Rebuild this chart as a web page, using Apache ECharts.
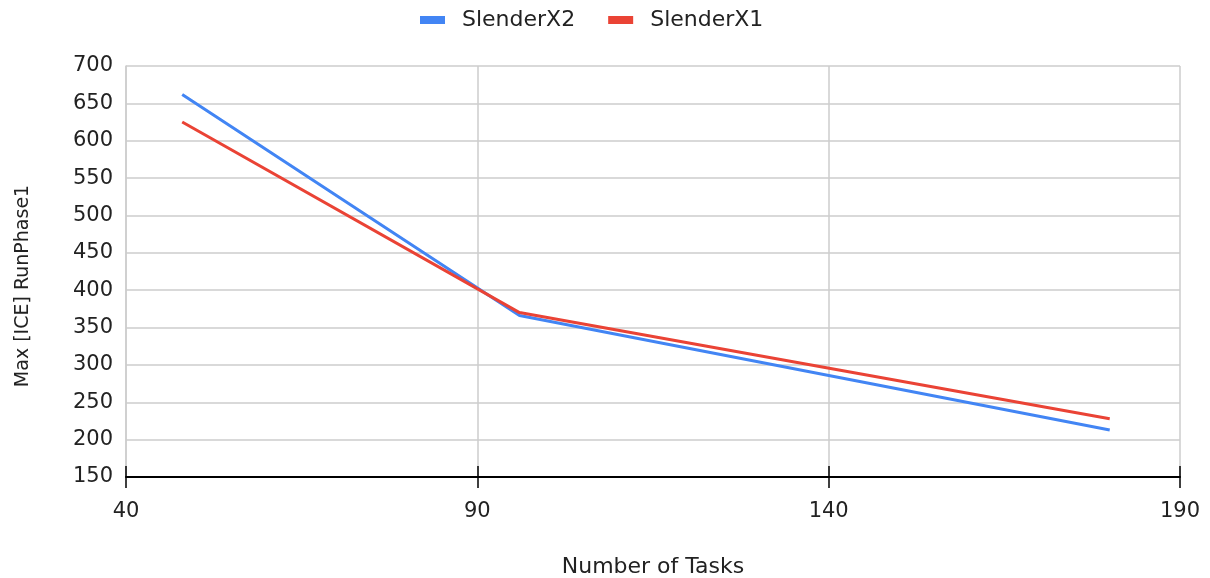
<!DOCTYPE html>
<html>
<head>
<meta charset="utf-8">
<title>Max [ICE] RunPhase1 vs Number of Tasks</title>
<script src="https://cdn.jsdelivr.net/npm/echarts@6/dist/echarts.min.js"></script>
<style>
  html, body { margin: 0; padding: 0; background: #fff; }
  #chart { width: 1210px; height: 578px; }
</style>
</head>
<body>
<div id="chart"></div>
<script>
// Number of tasks (x) for each measurement
const tasks = [48, 96, 180];
// Max [ICE] RunPhase1 per configuration
const slenderX2 = [662, 366, 213];
const slenderX1 = [625, 370, 228];
// Axis ranges
const xTicks = { min: 40, max: 190, interval: 50 };
const yTicks = { min: 150, max: 700, interval: 50 };

const FONT = '"DejaVu Sans", Arial, sans-serif';
const TEXT = '#222222';
const toPairs = (xs, ys) => xs.map((x, i) => [x, ys[i]]);

const chart = echarts.init(document.getElementById('chart'));
chart.setOption({
  backgroundColor: '#ffffff',
  animation: false,
  textStyle: { fontFamily: FONT },
  legend: {
    top: 9,
    left: 420,
    padding: 0,
    icon: 'rect',
    itemWidth: 25,
    itemHeight: 8,
    itemGap: 33,
    textStyle: { fontSize: 22, color: TEXT, fontFamily: FONT, padding: [0, 0, 0, 12] },
    data: ['SlenderX2', 'SlenderX1']
  },
  grid: {
    left: 126, right: 30, top: 66, bottom: 101,
    containLabel: false,
    outerBoundsMode: 'none'
  },
  xAxis: [
    {
      type: 'value',
      min: xTicks.min, max: xTicks.max, interval: xTicks.interval,
      name: 'Number of Tasks',
      nameLocation: 'middle',
      nameGap: 79,
      nameTextStyle: { fontSize: 22, color: TEXT, fontFamily: FONT },
      axisLine: { show: true, lineStyle: { color: '#000000', width: 2 } },
      axisTick: { show: true, inside: false, length: 11, lineStyle: { color: '#000000', width: 1.5 } },
      axisLabel: { fontSize: 21, color: TEXT, margin: 24, fontFamily: FONT },
      splitLine: { show: true, lineStyle: { color: '#cccccc', width: 1.5 } }
    },
    {
      // companion axis: draws the inner half of the crossing tick marks
      type: 'value',
      min: xTicks.min, max: xTicks.max, interval: xTicks.interval,
      position: 'bottom',
      axisLine: { show: false },
      axisTick: { show: true, inside: true, length: 11, lineStyle: { color: '#000000', width: 1.5 } },
      axisLabel: { show: false },
      splitLine: { show: false }
    }
  ],
  yAxis: {
    type: 'value',
    min: yTicks.min, max: yTicks.max, interval: yTicks.interval,
    axisLine: { show: true, lineStyle: { color: '#cccccc', width: 1.5 } },
    axisTick: { show: false },
    axisLabel: { fontSize: 21, color: TEXT, margin: 13, fontFamily: FONT },
    splitLine: { show: true, lineStyle: { color: '#cccccc', width: 1.5 } }
  },
  // vertical axis title
  graphic: [
    {
      type: 'text',
      x: 23,
      y: 286,
      rotation: Math.PI / 2,
      style: {
        text: 'Max [ICE] RunPhase1',
        fontSize: 19,
        fontFamily: FONT,
        fill: TEXT,
        align: 'center',
        verticalAlign: 'middle'
      }
    }
  ],
  series: [
    {
      name: 'SlenderX2',
      type: 'line',
      data: toPairs(tasks, slenderX2),
      showSymbol: false,
      symbol: 'none',
      color: '#4285F4',
      lineStyle: { color: '#4285F4', width: 3 },
      z: 3
    },
    {
      name: 'SlenderX1',
      type: 'line',
      data: toPairs(tasks, slenderX1),
      showSymbol: false,
      symbol: 'none',
      color: '#EA4335',
      lineStyle: { color: '#EA4335', width: 3 },
      z: 4
    }
  ]
});
</script>
</body>
</html>
